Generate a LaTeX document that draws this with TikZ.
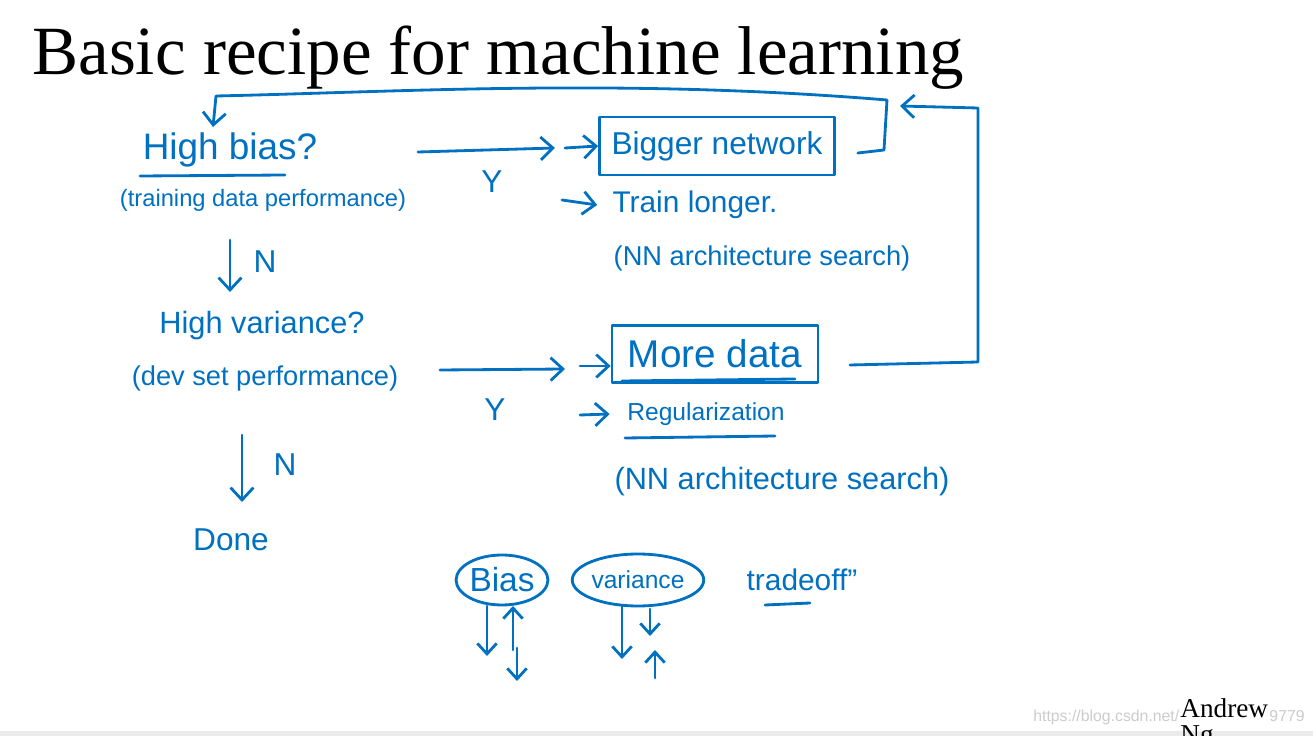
\documentclass[tikz,border=0pt]{standalone}
\usepackage{fontspec}
\setmainfont{Liberation Serif}
\newfontfamily\handfont{Liberation Sans}
\usetikzlibrary{arrows.meta,shapes.geometric,positioning,calc}
\definecolor{inkblue}{RGB}{0,112,192}
\newcommand\inksize[1]{\fontsize{#1}{#1}\selectfont}
\tikzset{
    ink/.style={
        inkblue,
        line width=1.6pt,
        line cap=round,
        line join=round
    },
    ink arrow/.style={
        ink,
        -{Straight Barb[length=7pt,width=13pt]}
    },
    ink text/.style={
        text=inkblue,
        font=\handfont,
        inner sep=0pt
    },
    ink box/.style={
        ink, draw, rectangle, inner sep=0pt
    },
    ink oval/.style={
        ink, draw, ellipse, inner sep=0pt
    }
}

\begin{document}
\begin{tikzpicture}[x=0.02cm, y=-0.02cm]
    \useasboundingbox (0,0) rectangle (1313,736);
    \fill[white] (0,0) rectangle (1313,736);
    \fill[black!8] (0,731) rectangle (1313,736);

    \node[anchor=base west, inner sep=0pt, font=\inksize{39.3}] (title) at (32,75) {Basic recipe for machine learning};

    % left column
    \node[ink text, font=\handfont\inksize{21}] (hbias) at (230,150) {High bias?};
    \node[ink text, font=\handfont\inksize{13.5}] (train) at (263,200) {(training data performance)};
    \node[ink text, font=\handfont\inksize{18}] (n1) at (265,262) {N};
    \node[ink text, font=\handfont\inksize{17.5}] (hvar) at (262,326) {High variance?};
    \node[ink text, font=\handfont\inksize{15.5}] (dev) at (265,378) {(dev set performance)};
    \node[ink text, font=\handfont\inksize{18}] (n2) at (285,465) {N};
    \node[ink text, font=\handfont\inksize{18}] (done) at (231,540) {Done};

    % right column
    \node[ink box, minimum width=4.7cm, minimum height=1.16cm, font=\handfont\inksize{18}] (bigger) at (717,146) {Bigger network};
    \node[ink text, font=\handfont\inksize{18}] (y1) at (492,182) {Y};
    \node[ink text, font=\handfont\inksize{17}] (longer) at (695,205) {Train longer.};
    \node[ink text, font=\handfont\inksize{15.5}] (nas1) at (762,258) {(NN architecture search)};
    \node[ink box, minimum width=4.12cm, minimum height=1.14cm, font=\handfont\inksize{22}] (more) at (715,354) {More data};
    \node[ink text, font=\handfont\inksize{18}] (y2) at (495,410) {Y};
    \node[ink text, font=\handfont\inksize{14}] (reg) at (706,414) {Regularization};
    \node[ink text, font=\handfont\inksize{17.5}] (nas2) at (782,482) {(NN architecture search)};

    % tradeoff
    \node[ink oval, minimum width=1.8cm, minimum height=1cm, font=\handfont\inksize{19}] (bias) at (502,580) {Bias};
    \node[ink oval, minimum width=2.52cm, minimum height=1.04cm, font=\handfont\inksize{14}] (variance) at (638,580) {variance};
    \node[ink text, font=\handfont\inksize{17}] (tradeoff) at (802,580) {tradeoff”};

    % footer
    \node[anchor=base west, inner sep=0pt, text=black!20, font=\handfont\inksize{9}] (mark) at (1033,722) {https://blog.csdn.net/};
    \node[anchor=base east, inner sep=0pt, text=black!20, font=\handfont\inksize{9}] (markend) at (1305,722) {9779};
    \node[anchor=base west, inner sep=0pt, font=\inksize{15.5}] (andrew) at (1180,718) {Andrew};
    \node[anchor=base west, inner sep=0pt, font=\inksize{15.5}] (ng) at (1180,744) {Ng};

    % underlines
    \draw[ink] (140,176) -- (285,175);
    \draw[ink] (622,381) -- (795,379);
    \draw[ink] (625,438) -- (775,436);
    \draw[ink] (765,605) -- (810,603);

    % Y branches
    \coordinate (hbout) at (418,152);
    \coordinate (hbin) at (555,148);
    \coordinate (bigin) at (565,148);
    \draw[ink arrow] (hbout) -- (hbin);
    \draw[ink arrow] (bigin) -- (bigger.west);
    \coordinate (lgin) at (562,200);
    \draw[ink arrow] (lgin) -- ([xshift=-0.3cm]longer.west);
    \coordinate (hvout) at (440,370);
    \coordinate (hvin) at (565,369);
    \coordinate (morein) at (580,366);
    \draw[ink arrow] (hvout) -- (hvin);
    \draw[ink arrow] (morein) -- (more.west |- morein);
    \coordinate (regin) at (580,415);
    \draw[ink arrow] (regin) -- ([xshift=-0.35cm]reg.west);

    % N branches
    \coordinate (n1top) at (230,240);
    \coordinate (n1bot) at (230,292);
    \draw[ink arrow] (n1top) -- (n1bot);
    \coordinate (n2top) at (242,435);
    \coordinate (n2bot) at (242,502);
    \draw[ink arrow] (n2top) -- (n2bot);

    % loops back
    \coordinate (hbtop) at (213,127);
    \draw[ink arrow] (bigger.east |- 0,153) ++(22,0) -- (884,150) -- (887,100)
        .. controls (620,78) and (400,92) .. (216,96) -- (hbtop);
    \coordinate (loopin) at (900,106);
    \draw[ink arrow] (850,365) -- (978,362) -- (978,108) -- (loopin);

    % little arrows
    \foreach \x/\a/\b in {487/606/656, 513/650/606, 517/648/681, 622/606/659, 650/609/636, 655/678/650}
        \draw[ink, -{Straight Barb[length=6pt,width=11pt]}] (\x,\a) -- (\x,\b);
\end{tikzpicture}
\end{document}
